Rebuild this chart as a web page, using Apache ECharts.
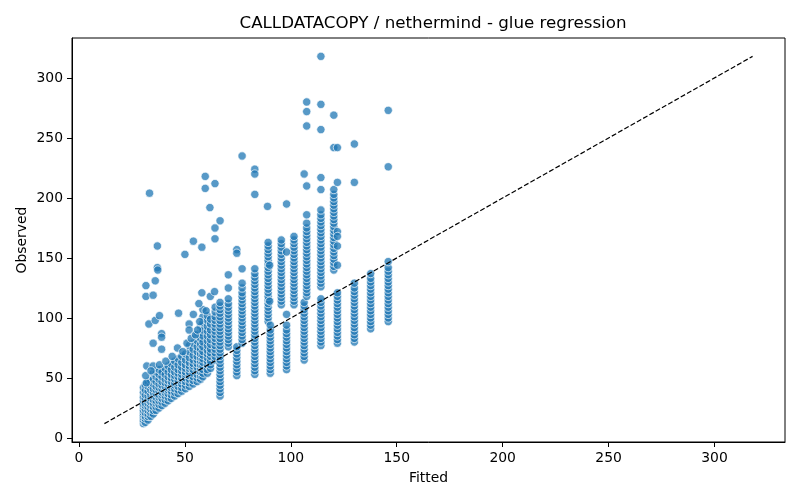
<!DOCTYPE html>
<html>
<head>
<meta charset="utf-8">
<script src="https://cdn.jsdelivr.net/npm/echarts@6/dist/echarts.min.js"></script>
<style>
  html, body { margin: 0; padding: 0; background: #fff; }
  #main { width: 800px; height: 500px; }
</style>
</head>
<body>
<div id="main"></div>
<script>
// tick labels
var xTicks = [0, 50, 100, 150, 200, 250, 300];
var yTicks = [0, 50, 100, 150, 200, 250, 300];

// identity line ends (min / max observed)
var lineEnds = [12, 318];

// low cluster: fitted value of each column and its observed values
var lowFitted = [30.4, 31.3, 32.6, 33.9, 35.1, 36.4, 37.8, 39.2, 40.7, 42.1, 43.6, 45.2, 46.8, 48.5, 50.3, 52.1, 53.9, 55.8, 57.4, 58.5, 60.6, 62.1, 64.3, 66.6];
var lowObserved = [
	[12, 14, 15, 17, 19, 21, 23, 26, 28, 31, 34, 38, 42],
	[13, 16, 18, 21, 24, 27, 29, 33, 36, 40, 44],
	[15, 18, 20, 23, 26, 29, 32, 35, 39, 43, 47],
	[18, 21, 24, 27, 30, 33, 36, 40, 44, 48],
	[20, 23, 26, 29, 32, 35, 38, 41, 45, 49, 54],
	[23, 26, 29, 31, 34, 37, 40, 43, 47, 51, 55],
	[25, 28, 31, 34, 36, 39, 42, 45, 49, 53, 57],
	[27, 30, 33, 36, 38, 41, 44, 47, 51, 55],
	[29, 32, 35, 38, 40, 43, 46, 49, 53, 58],
	[31, 34, 37, 40, 42, 45, 48, 51, 55, 60],
	[33, 36, 39, 42, 44, 47, 50, 53, 57, 62],
	[35, 38, 41, 44, 46, 49, 52, 55, 59, 64],
	[37, 40, 43, 46, 48, 51, 54, 57, 61, 66],
	[39, 42, 45, 48, 50, 53, 56, 59, 63, 68],
	[41, 44, 47, 50, 53, 55, 58, 61, 65, 70],
	[43, 46, 49, 52, 55, 58, 60, 63, 67, 72, 77],
	[45, 48, 51, 54, 57, 60, 62, 65, 69, 74, 79],
	[47, 50, 53, 56, 59, 62, 65, 68, 72, 76, 81, 86],
	[49, 52, 55, 58, 61, 64, 67, 70, 74, 78, 83, 88, 93],
	[51, 54, 57, 60, 63, 66, 69, 72, 76, 80, 85, 90, 96, 101, 107],
	[54, 57, 61, 64, 67, 70, 73, 77, 81, 85, 89, 93, 98, 102],
	[58, 61, 64, 68, 71, 74, 78, 82, 86, 90, 95, 99],
	[65, 68, 71, 74, 77, 80, 83, 86, 89, 92, 95, 98, 101, 105, 109],
	[35, 38, 41, 44, 47, 50, 53, 56, 59, 62, 65, 68, 71, 74, 77, 80, 83, 86, 89, 92, 95, 98, 101, 104, 107, 110, 113]
];

// middle columns
var midFitted = [70.5, 74.5, 77, 83, 89.3, 90.3, 95.5, 98, 101.5, 106.3, 107.5];
var midObserved = [
	[76, 79, 82, 85, 88, 91, 94, 97, 100, 103, 106, 109, 112, 116],
	[52, 55, 58, 61, 64, 67, 70, 73, 76],
	[79, 82, 85, 88, 91, 94, 97, 100, 103, 106, 109, 112, 115, 118, 121, 125, 129],
	[53, 56, 59, 62, 65, 68, 71, 74, 77, 80, 83, 86, 89, 92, 95, 98, 101, 104, 107, 110, 113, 116, 119, 122, 125, 128, 131, 134, 137, 141],
	[97, 100, 103, 106, 109, 112, 115, 118, 121, 124, 127, 130, 133, 136, 139, 142, 145, 148, 151, 154, 157, 160, 163],
	[54, 57, 60, 63, 66, 69, 72, 75, 78, 81, 84, 87, 90, 94],
	[111, 114, 117, 120, 123, 126, 129, 132, 135, 138, 141, 144, 147, 150, 153, 156, 159, 162, 165],
	[57, 60, 63, 66, 69, 72, 75, 78, 81, 84, 87, 90, 94],
	[111, 114, 117, 120, 123, 126, 129, 132, 135, 138, 141, 144, 147, 150, 153, 156, 159, 162, 165, 168],
	[65, 68, 71, 74, 77, 80, 83, 86, 89, 92, 95, 98, 101, 104, 107, 110, 113],
	[118, 121, 124, 127, 130, 133, 136, 139, 142, 145, 148, 151, 154, 157, 160, 163, 166, 169, 172, 175, 179]
];

// high columns
var highFitted = [114.2, 114.2, 120.3, 122, 130, 137.7, 146];
var highObserved = [
	[126, 129, 132, 135, 138, 141, 144, 147, 150, 153, 156, 159, 162, 165, 168, 171, 174, 177, 180, 183, 186, 190],
	[77, 80, 83, 86, 89, 92, 95, 98, 101, 104, 107, 110, 113, 116],
	[140, 143, 146, 149, 152, 155, 158, 161, 164, 167, 170, 173, 176, 179, 182, 185, 188, 191, 194, 197, 200, 203, 207],
	[79, 82, 85, 88, 91, 94, 97, 100, 103, 106, 109, 112, 115, 118, 121],
	[80, 83, 86, 89, 92, 95, 98, 101, 104, 107, 110, 113, 116, 119, 122, 125, 129],
	[91, 94, 97, 100, 103, 106, 109, 112, 115, 118, 121, 124, 127, 130, 133, 137],
	[97, 100, 103, 106, 109, 112, 115, 118, 121, 124, 127, 130, 133, 136, 139, 142, 147]
];

// scattered points [fitted, observed]
var outliers = [
	[31.6, 127], [31.6, 118], [33.3, 204], [33, 95], [35, 119], [35, 79], [36, 131], [36, 98],
	[37, 160], [37, 142], [37.2, 140], [38, 102], [39, 87], [39, 84], [39, 74], [47, 104],
	[50, 153], [52, 95], [52, 90], [54, 164], [54, 103], [56.6, 112], [58, 159], [58, 121],
	[59.6, 218], [59.6, 208], [61.8, 192], [62, 118], [64.2, 212], [64.2, 175], [64.2, 166], [64, 122],
	[66.6, 181], [70.5, 136], [70.5, 125], [74.5, 157], [74.5, 154], [77, 141], [77, 235],
	[83, 224], [83, 220], [83, 203], [89, 193], [98, 195], [98, 155], [98, 103], [90, 144], [90, 114],
	[106.3, 220], [107.5, 210], [107.5, 186], [107.5, 260], [107.5, 272], [107.5, 280],
	[114.2, 318], [114.2, 278], [114.2, 257], [114.2, 217], [114.2, 207],
	[120.3, 269], [120.3, 242], [122, 242], [122, 213], [122, 172], [122, 168], [122, 160], [122, 144],
	[130, 245], [130, 213], [146, 273], [146, 226],
	[32, 60], [35, 60], [31.8, 46], [31.5, 52], [34, 56], [38, 61], [41, 64], [44, 68],
	[46.5, 75], [49, 72], [51, 79], [53, 83], [55, 86], [57, 97], [56, 90], [60, 106]
];

var points = [];
function addColumns(fitted, observed) {
	for (var i = 0; i < fitted.length; i++) {
		for (var j = 0; j < observed[i].length; j++) {
			points.push([fitted[i], observed[i][j]]);
		}
	}
}
addColumns(lowFitted, lowObserved);
addColumns(midFitted, midObserved);
addColumns(highFitted, highObserved);
points = points.concat(outliers);

var font = 'DejaVu Sans';

var myChart = echarts.init(document.getElementById('main'));

var option = {
	animation: false,
	backgroundColor: '#fff',
	title: {
		text: 'CALLDATACOPY / nethermind - glue regression',
		left: 428,
		top: 10,
		textAlign: 'center',
		textStyle: {fontFamily: font, fontSize: 16.7, fontWeight: 'normal', color: '#000'}
	},
	grid: {
		left: 72, right: 15, top: 38, bottom: 58,
		show: true, borderColor: '#000', borderWidth: 1
	},
	xAxis: {
		type: 'value',
		min: -3.3,
		max: 333.3,
		name: 'Fitted',
		nameLocation: 'middle',
		nameGap: 29,
		nameTextStyle: {fontFamily: font, fontSize: 13.9, color: '#000'},
		axisLine: {show: true, onZero: false, lineStyle: {color: '#000', width: 1}},
		axisTick: {show: true, length: 5, customValues: xTicks, lineStyle: {color: '#000'}},
		axisLabel: {customValues: xTicks, margin: 9, fontFamily: font, fontSize: 13.9, color: '#000'},
		splitLine: {show: false}
	},
	yAxis: {
		type: 'value',
		min: -3.3,
		max: 333.3,
		name: 'Observed',
		nameLocation: 'middle',
		nameGap: 43,
		nameMoveOverlap: false,
		nameTextStyle: {fontFamily: font, fontSize: 13.9, color: '#000'},
		axisLine: {show: true, onZero: false, lineStyle: {color: '#000', width: 1}},
		axisTick: {show: true, length: 5, customValues: yTicks, lineStyle: {color: '#000'}},
		axisLabel: {customValues: yTicks, margin: 9, fontFamily: font, fontSize: 13.9, color: '#000'},
		splitLine: {show: false}
	},
	series: [
		{
			name: 'observations',
			type: 'scatter',
			symbolSize: 8.3,
			itemStyle: {color: '#1f77b4', borderColor: '#fff', borderWidth: 0.9, opacity: 0.75},
			data: points
		},
		{
			name: 'identity',
			type: 'line',
			symbol: 'none',
			lineStyle: {color: '#000', width: 1.2, type: [5, 2.2]},
			data: [[lineEnds[0], lineEnds[0]], [lineEnds[1], lineEnds[1]]]
		}
	]
};

myChart.setOption(option);
</script>
</body>
</html>
